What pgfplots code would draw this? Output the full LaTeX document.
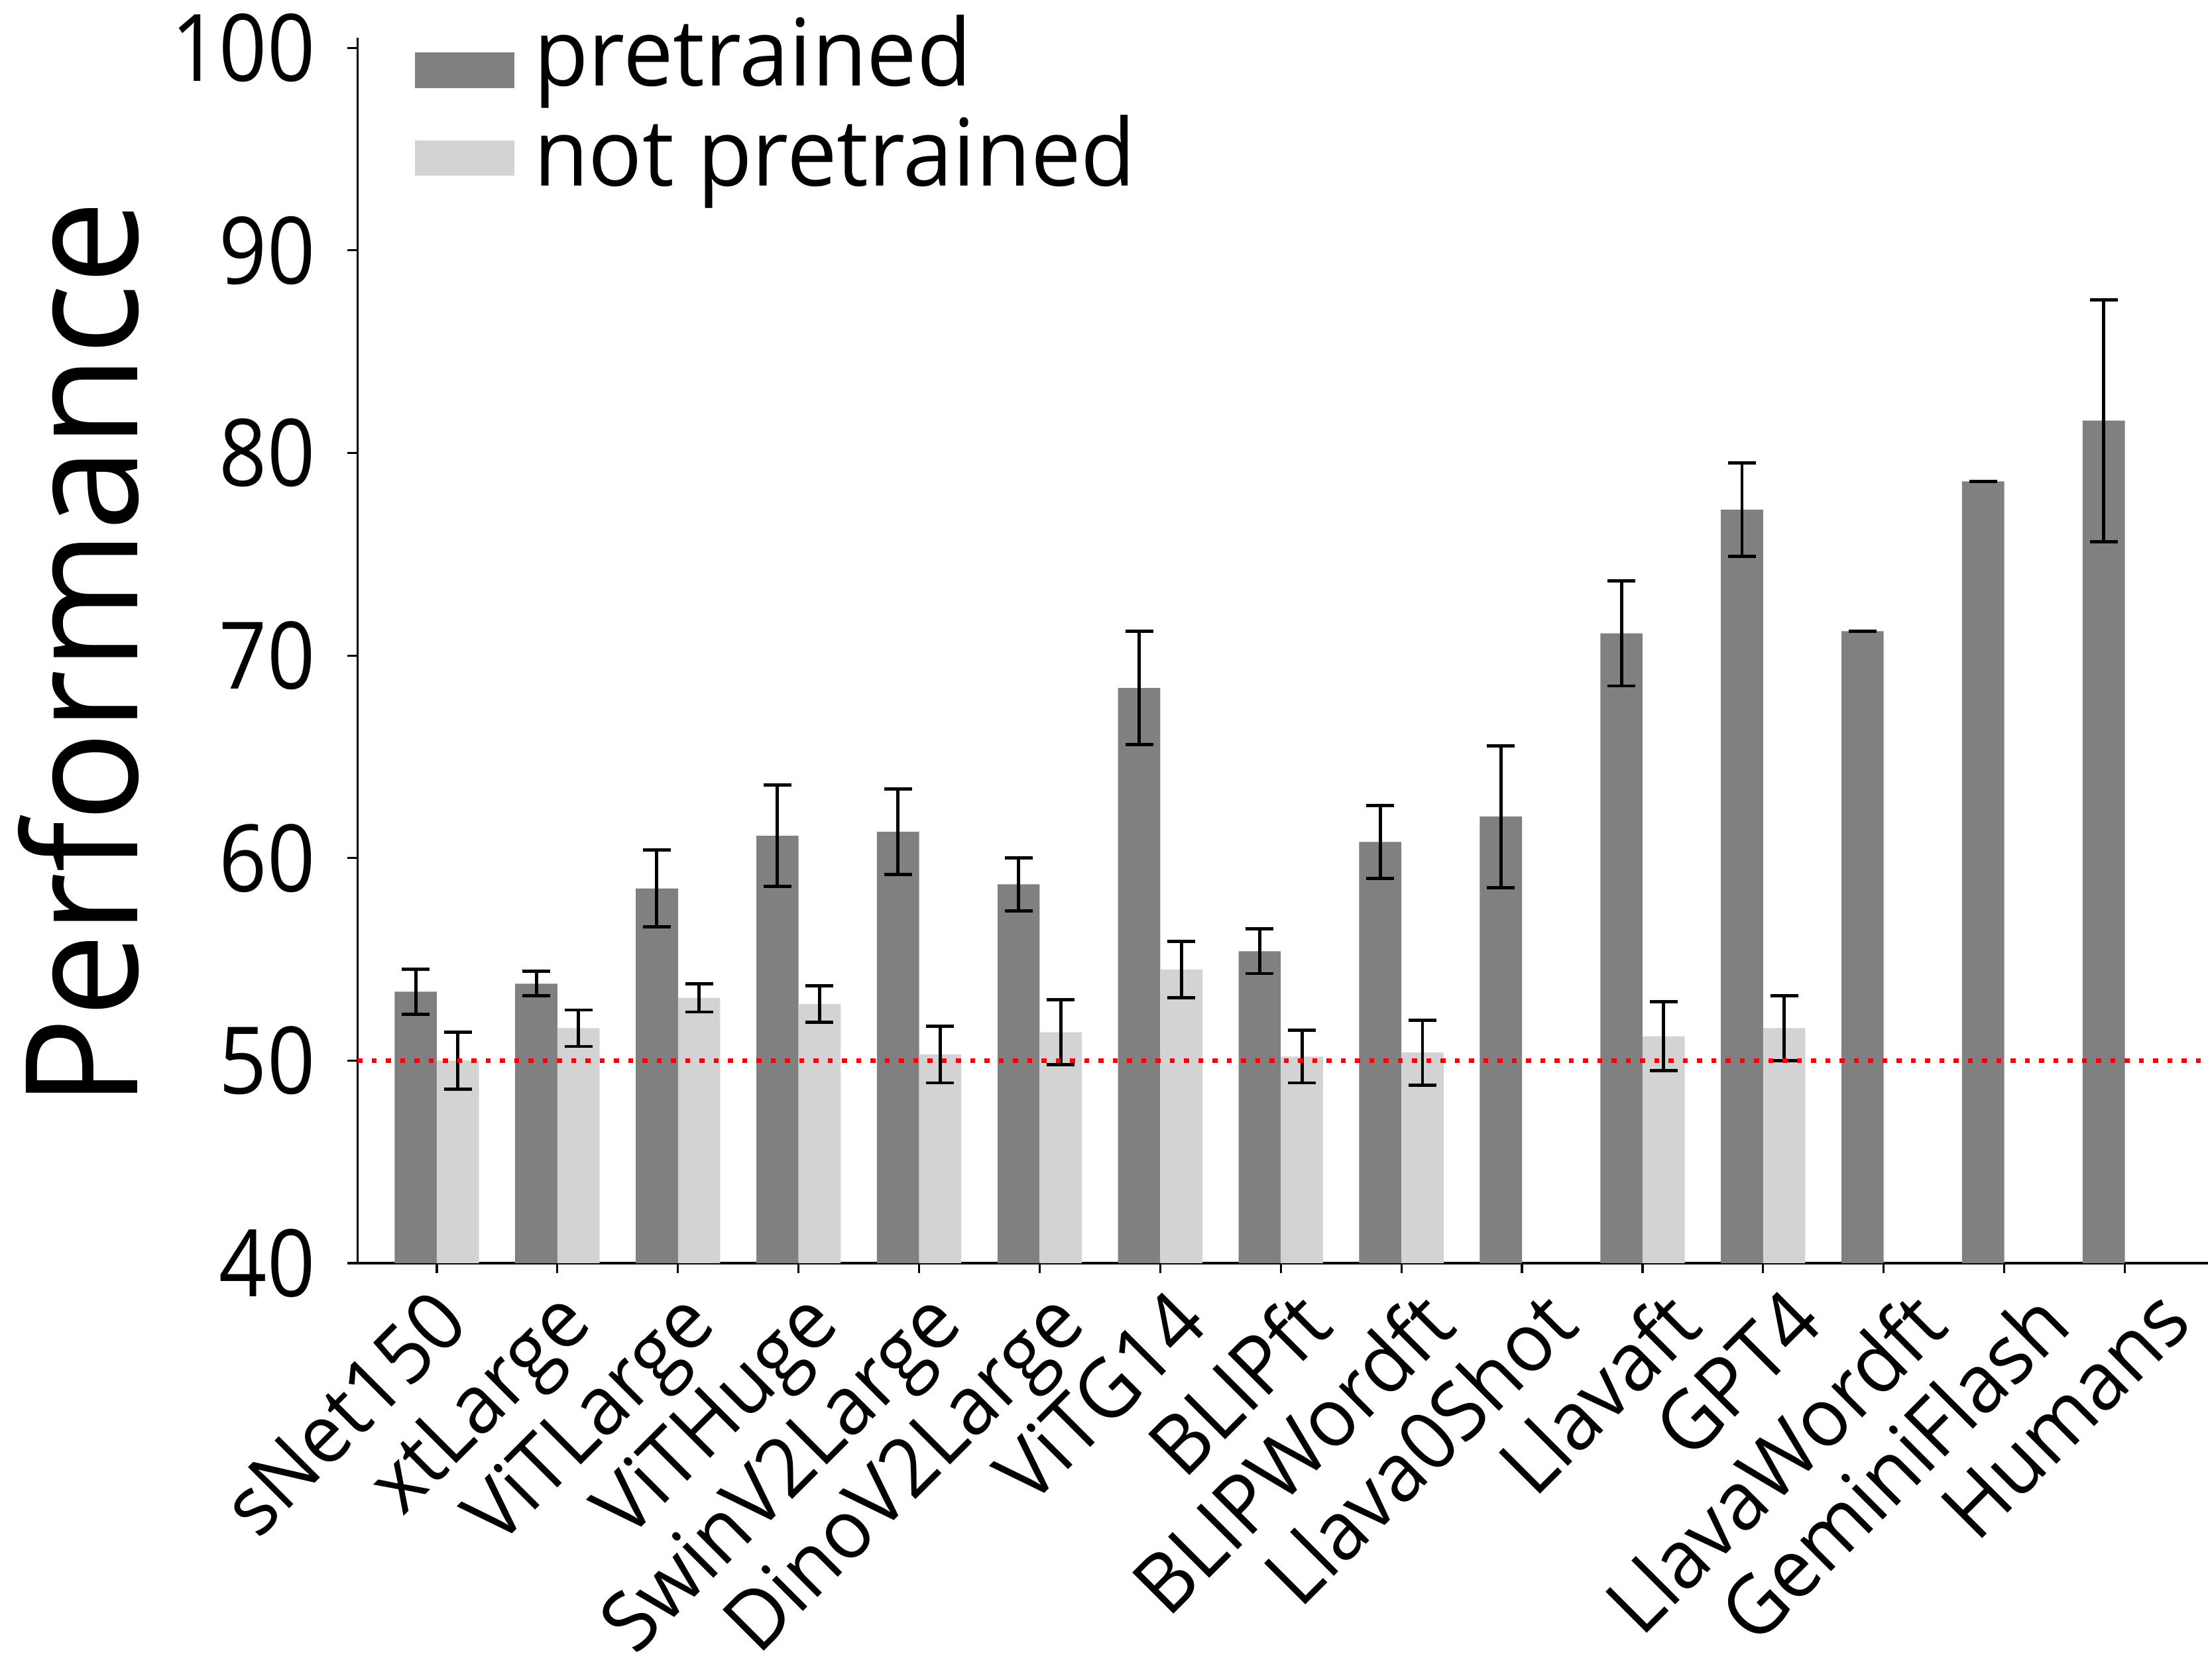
\documentclass[border=0pt]{standalone}
\usepackage{pgfplots}
\pgfplotsset{compat=1.18}
\usepackage{fontspec}
\setmainfont[FakeStretch=0.96]{Open Sans}
\newfontfamily\tickfont[FakeStretch=0.9]{Open Sans}
\definecolor{darkbar}{HTML}{808080}
\definecolor{lightbar}{HTML}{D3D3D3}
\begin{document}
\begin{tikzpicture}
\useasboundingbox (-5.393cm,-6.28cm) rectangle (27.917cm,19.06cm);
\begin{axis}[
  scale only axis, width=27.917cm, height=18.49cm,
  xmin=-0.658, xmax=14.69, ymin=40, ymax=100.5,
  axis lines*=left,
  axis line style={line width=0.9pt, black},
  ytick={40,50,60,70,80,90,100},
  xtick={0,1,2,3,4,5,6,7,8,9,10,11,12,13,14},
  xticklabels={},
  extra x ticks={-0.058,0.963,1.984,3.005,4.026,5.047,6.067,7.088,8.109,9.130,10.151,11.172,12.193,13.214,14.235},
  extra x tick labels={sNet150,xtLarge,ViTLarge,ViTHuge,SwinV2Large,DinoV2Large,ViTG14,BLIPft,BLIPWordft,Llava0Shot,Llavaft,GPT4,LlavaWordft,GeminiFlash,Humans},
  extra x tick style={tick style={draw=none}},
  tick align=outside, major tick length=0.15cm,
  tick style={line width=0.9pt, black},
  /pgf/number format/assume math mode=true,
  yticklabel style={font=\tickfont\fontsize{40}{48}\selectfont, inner sep=0pt, anchor=east},
  yticklabel shift=0.48cm,
  xticklabel style={font=\fontsize{35}{42}\selectfont, rotate=45, anchor=north east, inner sep=0pt},
  xticklabel shift=0.17cm,
  ylabel={Performance},
  ylabel style={font=\fontsize{67}{80}\selectfont, at={(axis description cs:-0.11785,0.497)}, anchor=south, inner sep=0pt},
  legend style={at={(axis description cs:0.03106,1)}, anchor=north west, yshift=0.34cm,
    draw=none, fill=none, inner sep=0pt, outer sep=0pt, row sep=0.39cm, column sep=0.29cm,
    font=\fontsize{40}{48}\selectfont, nodes={inner sep=0pt, outer sep=0pt}},
  legend cell align=left,
]
\addplot[ybar, bar width=0.35, bar shift=0, fill=darkbar, draw=none,
  legend image code/.code={\fill[darkbar] (0cm,-0.54cm) rectangle (1.5cm,0cm);},
  error bars/.cd, y dir=both, y explicit,
  error bar style={line width=1.4pt, black},
  error mark options={rotate=90, line width=1.4pt, mark size=0.21cm, black}]
coordinates {
(-0.175,53.4) += (0,1.1) -= (0,1.1)
(0.825,53.8) += (0,0.6) -= (0,0.6)
(1.825,58.5) += (0,1.9) -= (0,1.9)
(2.825,61.1) += (0,2.5) -= (0,2.5)
(3.825,61.3) += (0,2.1) -= (0,2.1)
(4.825,58.7) += (0,1.3) -= (0,1.3)
(5.825,68.4) += (0,2.8) -= (0,2.8)
(6.825,55.4) += (0,1.1) -= (0,1.1)
(7.825,60.8) += (0,1.8) -= (0,1.8)
(8.825,62.05) += (0,3.5) -= (0,3.5)
(9.825,71.1) += (0,2.6) -= (0,2.6)
(10.825,77.2) += (0,2.3) -= (0,2.3)
(11.825,71.2) += (0,0) -= (0,0)
(12.825,78.6) += (0,0) -= (0,0)
(13.825,81.6) += (0,5.97) -= (0,5.97)
};
\addlegendentry{pretrained}
\addplot[ybar, bar width=0.35, bar shift=0, fill=lightbar, draw=none,
  legend image code/.code={\fill[lightbar] (0cm,-0.35cm) rectangle (1.5cm,0.18cm);},
  error bars/.cd, y dir=both, y explicit,
  error bar style={line width=1.4pt, black},
  error mark options={rotate=90, line width=1.4pt, mark size=0.21cm, black}]
coordinates {
(0.175,50.0) += (0,1.4) -= (0,1.4)
(1.175,51.6) += (0,0.9) -= (0,0.9)
(2.175,53.1) += (0,0.7) -= (0,0.7)
(3.175,52.8) += (0,0.9) -= (0,0.9)
(4.175,50.3) += (0,1.4) -= (0,1.4)
(5.175,51.4) += (0,1.6) -= (0,1.6)
(6.175,54.5) += (0,1.4) -= (0,1.4)
(7.175,50.2) += (0,1.3) -= (0,1.3)
(8.175,50.4) += (0,1.6) -= (0,1.6)
(10.175,51.2) += (0,1.7) -= (0,1.7)
(11.175,51.6) += (0,1.6) -= (0,1.6)
};
\addlegendentry{not pretrained}
\addplot[red, line width=0.075cm, dash pattern=on 0.075cm off 0.14cm, forget plot]
coordinates {(-0.658,50) (14.69,50)};
\end{axis}
\end{tikzpicture}
\end{document}
